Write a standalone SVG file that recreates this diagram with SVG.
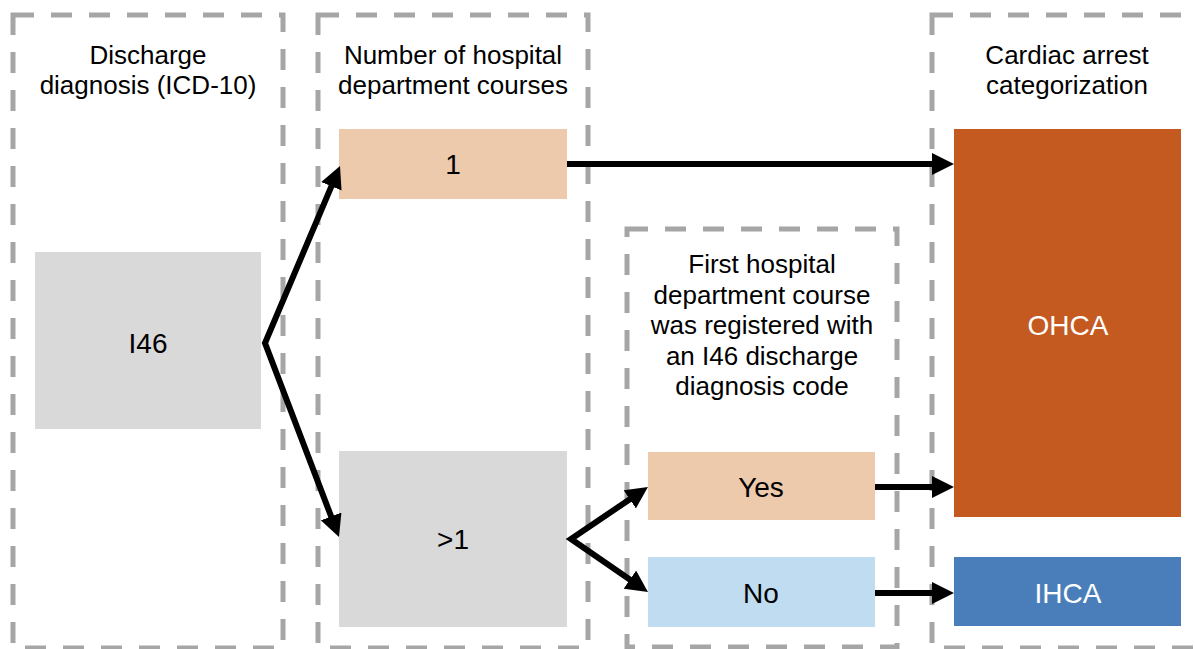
<svg xmlns="http://www.w3.org/2000/svg" width="1195" height="649" viewBox="0 0 1195 649">
<style>
.frame{fill:none;stroke:#a6a6a6;stroke-width:5;stroke-dasharray:21 17}
.t{font-family:"Liberation Sans",Arial,sans-serif;font-size:26px;fill:#000;text-anchor:middle}
.n{font-family:"Liberation Sans",Arial,sans-serif;font-size:28px;fill:#000;text-anchor:middle}
.w{fill:#fff}
.c{fill:none;stroke:#000;stroke-width:6;stroke-linejoin:miter;stroke-miterlimit:10;marker-end:url(#ah)}
.f{marker-start:url(#ah)}
</style>
<defs>
<marker id="ah" markerUnits="userSpaceOnUse" markerWidth="22" markerHeight="22" refX="10" refY="11" orient="auto-start-reverse" viewBox="0 0 22 22">
<path d="M0,0 L22,11 L0,22 z" fill="#000"/>
</marker>
</defs>
<rect width="1195" height="649" fill="#fff"/>
<g id="col-discharge">
<rect class="frame" x="13" y="15" width="270" height="633"/>
<text class="t" x="148" y="64">Discharge</text>
<text class="t" x="148" y="94">diagnosis (ICD-10)</text>
</g>
<g id="col-courses">
<rect class="frame" x="318" y="15" width="270" height="633"/>
<text class="t" x="453" y="64">Number of hospital</text>
<text class="t" x="453" y="94">department courses</text>
</g>
<g id="col-first">
<rect class="frame" x="627" y="229" width="270" height="418"/>
<text class="t" x="762" y="273">First hospital</text>
<text class="t" x="762" y="304">department course</text>
<text class="t" x="762" y="334">was registered with</text>
<text class="t" x="762" y="365">an I46 discharge</text>
<text class="t" x="762" y="395">diagnosis code</text>
</g>
<g id="col-category">
<rect class="frame" x="932" y="15" width="270" height="633"/>
<text class="t" x="1067" y="64">Cardiac arrest</text>
<text class="t" x="1067" y="94">categorization</text>
</g>
<g id="node-i46">
<rect x="35" y="252" width="226" height="177" fill="#d9d9d9"/>
<text class="n" x="148" y="353">I46</text>
</g>
<g id="node-one">
<rect x="339" y="129" width="228" height="70" fill="#eecaad"/>
<text class="n" x="453" y="174">1</text>
</g>
<g id="node-more">
<rect x="339" y="451" width="228" height="176" fill="#d9d9d9"/>
<text class="n" x="453" y="549">&gt;1</text>
</g>
<g id="node-yes">
<rect x="648" y="452" width="227" height="68" fill="#eecaad"/>
<text class="n" x="761" y="497">Yes</text>
</g>
<g id="node-no">
<rect x="648" y="557" width="227" height="70" fill="#bfdcf0"/>
<text class="n" x="761" y="603">No</text>
</g>
<g id="node-ohca">
<rect x="954" y="129" width="227" height="388" fill="#c55a21"/>
<text class="n w" x="1068" y="335">OHCA</text>
</g>
<g id="node-ihca">
<rect x="954" y="557" width="227" height="69" fill="#4a7ebb"/>
<text class="n w" x="1068" y="603">IHCA</text>
</g>
<g id="connectors">
<path class="c f" d="M335.3,177.1 L265,343 L334.7,525.8"/>
<path class="c f" d="M638,493.7 L571,539 L638.1,585.3"/>
<path class="c" d="M567,164 L942,164"/>
<path class="c" d="M875,487 L942,487"/>
<path class="c" d="M875,593 L942,593"/>
</g>
</svg>
